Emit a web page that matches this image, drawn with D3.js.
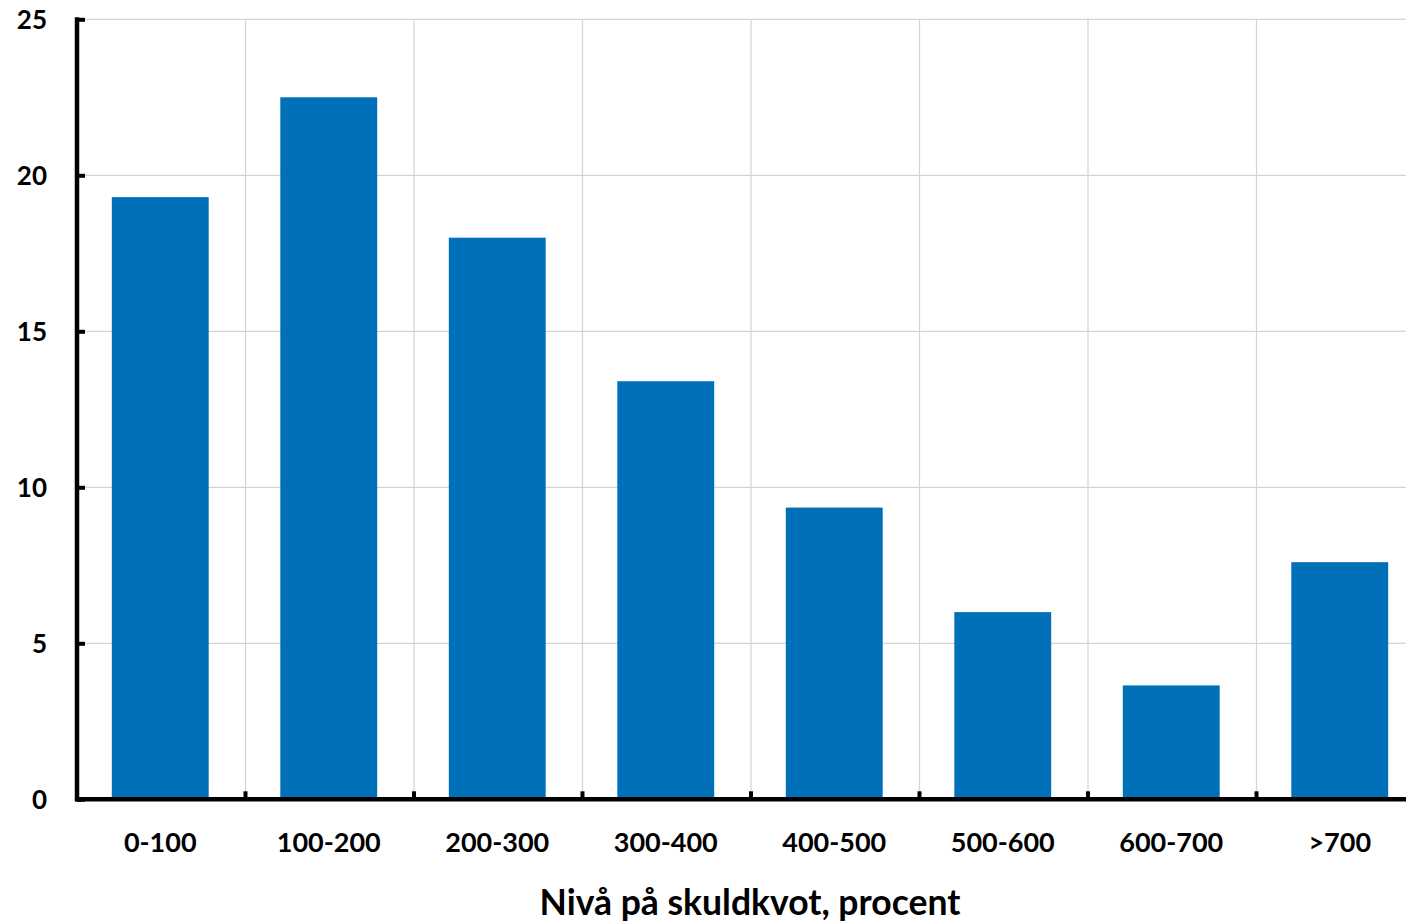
<!DOCTYPE html>
<html><head><meta charset="utf-8">
<script src="https://cdn.jsdelivr.net/npm/d3@7"></script>
<style>body{margin:0;background:#fff}svg{display:block}</style>
</head><body>
<svg id="c" width="1406" height="923"></svg>
<script>
const categories = ["0-100","100-200","200-300","300-400","400-500","500-600","600-700",">700"];
const values = [19.3, 22.5, 18.0, 13.4, 9.35, 6.0, 3.65, 7.6];
const yTicks = [0, 5, 10, 15, 20, 25];
const xTitle = "Nivå på skuldkvot, procent";

(function(){
const svg = d3.select("#c");
const mLeft = 77, mRight = 1425, mTop = 19.3, mBottom = 799.3;
const font = "Lato, 'Open Sans', sans-serif";

const x = d3.scaleBand().domain(categories).range([mLeft, mRight]).paddingInner(0.425).paddingOuter(0.2125);
const y = d3.scaleLinear().domain([0, 25]).range([mBottom, mTop]);

svg.append("g").selectAll("line").data(yTicks.filter(d => d > 0)).join("line")
  .attr("x1", mLeft).attr("x2", mRight).attr("y1", d => y(d)).attr("y2", d => y(d))
  .attr("stroke", "#d4d4d4").attr("stroke-width", 1.2);
const step = x.step();
const bounds = d3.range(1, categories.length + 1).map(i => mLeft + i * step);
svg.append("g").selectAll("line").data(bounds).join("line")
  .attr("x1", d => d).attr("x2", d => d).attr("y1", mTop).attr("y2", mBottom)
  .attr("stroke", "#d4d4d4").attr("stroke-width", 1.2);

svg.append("g").selectAll("rect").data(values).join("rect")
  .attr("x", (d, i) => x(categories[i]) - 1).attr("width", x.bandwidth())
  .attr("y", d => y(d)).attr("height", d => y(0) - y(d))
  .attr("fill", "#0070b9");

const yAxis = d3.axisRight(y).tickValues(yTicks).tickSize(8).tickFormat("");
const gy = svg.append("g").attr("transform", `translate(${mLeft},0)`).call(yAxis);
gy.select(".domain").remove();
gy.selectAll(".tick line").attr("stroke", "#000").attr("stroke-width", 4);
svg.append("line").attr("x1", mLeft).attr("x2", mLeft).attr("y1", mTop - 2).attr("y2", mBottom + 2)
  .attr("stroke", "#000").attr("stroke-width", 4.5);
svg.append("g").selectAll("text").data(yTicks).join("text")
  .attr("x", 47).attr("y", d => y(d)).attr("dy", "0.36em").attr("text-anchor", "end")
  .attr("font-family", font).attr("font-weight", 700).attr("font-size", 26).attr("fill", "#000")
  .text(d => d);

svg.append("g").selectAll("line").data(bounds.slice(0, -1)).join("line")
  .attr("x1", d => d).attr("x2", d => d).attr("y1", mBottom).attr("y2", mBottom - 8)
  .attr("stroke", "#000").attr("stroke-width", 4);
svg.append("line").attr("x1", mLeft - 2).attr("x2", mRight).attr("y1", mBottom).attr("y2", mBottom)
  .attr("stroke", "#000").attr("stroke-width", 4.5);
svg.append("g").selectAll("text").data(categories).join("text")
  .attr("x", d => x(d) + x.bandwidth() / 2 - 1).attr("y", 852).attr("text-anchor", "middle")
  .attr("font-family", font).attr("font-weight", 700).attr("font-size", 27).attr("fill", "#000")
  .text(d => d);

svg.append("text").attr("x", (mLeft + mRight) / 2 - 1).attr("y", 915).attr("text-anchor", "middle")
  .attr("font-family", font).attr("font-weight", 700).attr("font-size", 35.5).attr("fill", "#000")
  .text(xTitle);
})();
</script>
</body></html>
